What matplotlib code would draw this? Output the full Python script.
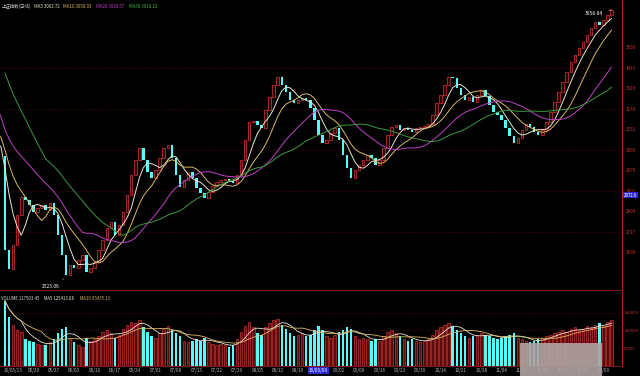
import numpy as np
import pandas as pd
import matplotlib
matplotlib.use('Agg')
import matplotlib.pyplot as plt
from matplotlib.patches import Rectangle

plt.rcParams['font.family'] = ['Noto Sans CJK SC', 'DejaVu Sans']

# closes before the visible window (only feed the moving averages)
pre_closes = [3950, 3940, 3920, 3900, 3890, 3880, 3860, 3840, 3810, 3770,
              3300, 3285, 3260, 3250, 3230, 3220, 3210, 3200, 3195, 3190,
              3170, 3160, 3150, 3120, 3110, 3100, 3080, 3060, 3040]

closes = [2640, 2560, 2661, 2788, 2865, 2852, 2831, 2801, 2818, 2831,
          2810, 2839, 2788, 2704, 2619, 2534, 2576, 2564, 2598, 2619,
          2547, 2564, 2589, 2640, 2682, 2733, 2759, 2704, 2746, 2801,
          2873, 2958, 3022, 3072, 3022, 2971, 2945, 2979, 3030, 3072,
          3085, 3030, 2958, 2907, 2937, 2971, 2945, 2903, 2882, 2860,
          2886, 2911, 2928, 2937, 2941, 2933, 2924, 2958, 3022, 3106,
          3183, 3187, 3170, 3157, 3234, 3289, 3340, 3374, 3340, 3310,
          3276, 3263, 3276, 3285, 3276, 3242, 3191, 3128, 3094, 3106,
          3136, 3157, 3106, 3043, 2988, 2945, 2979, 3000, 3022, 3043,
          3030, 3000, 3022, 3072, 3128, 3162, 3170, 3149, 3157, 3149,
          3140, 3157, 3162, 3166, 3174, 3212, 3263, 3297, 3340, 3374,
          3369, 3327, 3297, 3276, 3289, 3268, 3297, 3318, 3293, 3255,
          3225, 3212, 3191, 3157, 3123, 3094, 3115, 3149, 3174, 3162,
          3140, 3128, 3149, 3183, 3225, 3268, 3310, 3352, 3395, 3437,
          3467, 3496, 3522, 3552, 3581, 3607, 3594, 3615, 3636, 3658]

volumes = [220000, 165000, 140000, 120000, 115000, 90000, 85000, 80000, 75000, 70000,
           72000, 80000, 90000, 110000, 125000, 130000, 90000, 80000, 70000, 65000,
           95000, 85000, 90000, 100000, 115000, 120000, 110000, 95000, 105000, 125000,
           140000, 150000, 145000, 155000, 130000, 115000, 100000, 95000, 110000, 125000,
           135000, 120000, 110000, 100000, 85000, 80000, 85000, 90000, 85000, 95000,
           80000, 75000, 70000, 75000, 70000, 65000, 70000, 90000, 115000, 135000,
           150000, 130000, 110000, 105000, 130000, 145000, 155000, 160000, 140000, 125000,
           110000, 100000, 105000, 110000, 100000, 105000, 120000, 135000, 120000, 100000,
           95000, 105000, 115000, 120000, 130000, 125000, 100000, 90000, 95000, 90000,
           85000, 90000, 85000, 100000, 115000, 120000, 110000, 100000, 90000, 85000,
           90000, 85000, 80000, 85000, 90000, 105000, 120000, 130000, 140000, 145000,
           135000, 120000, 110000, 100000, 95000, 100000, 105000, 110000, 105000, 100000,
           95000, 90000, 95000, 100000, 105000, 110000, 95000, 90000, 85000, 80000,
           85000, 90000, 95000, 100000, 105000, 110000, 115000, 120000, 115000, 125000,
           130000, 120000, 125000, 135000, 130000, 140000, 145000, 135000, 150000, 155000]

date_labels = ['16/05/13', '05/20', '05/27', '06/03', '06/10', '06/17', '06/24', '07/01',
               '07/08', '07/15', '07/22', '07/29', '08/05', '08/12', '08/19', '16/09/09',
               '09/02', '09/09', '09/16', '09/23', '09/30', '10/14', '10/21', '10/28',
               '11/04', '11/11', '11/18', '11/25', '12/02', '12/09']
date_pos = list(range(2, 150, 5))
cursor_label = 15  # the date shown in the blue cursor box

price_ticks = [2630, 2717, 2804, 2891, 2978, 3065, 3152, 3239, 3326, 3413, 3500]
vol_ticks = [60000, 120000, 180000]

low_value = 2523.06
high_value = 3658.84
cursor_price = 2872.6

RED = '#e03838'
CYAN = '#54fcfc'
AXRED = '#b02020'

fig = plt.figure(figsize=(6.4, 3.76), dpi=100, facecolor='black')
ax = fig.add_axes([0, 0.2287, 0.972, 0.771], facecolor='black')
axv = fig.add_axes([0, 0.0266, 0.972, 0.197], facecolor='black')

x = np.arange(len(closes))
c = np.array(closes, dtype=float)
o = np.array([pre_closes[-1]] + closes[:-1], dtype=float)
up = c >= o
body_lo = np.minimum(o, c)
body_h = np.maximum(np.abs(c - o), 3)

ax.bar(x[up], body_h[up], bottom=body_lo[up], width=0.62,
       color='#2a0000', edgecolor=RED, linewidth=0.5, zorder=3)
ax.bar(x[~up], body_h[~up], bottom=body_lo[~up], width=0.62,
       color=CYAN, linewidth=0, zorder=3)

full = pd.Series(pre_closes + closes, dtype=float)
xfull = np.arange(-len(pre_closes), len(closes))
ma_styles = [(5, '#e8e4d0'), (10, '#d8b860'), (20, '#c040c8'), (30, '#3c9a3c')]
for n, col in ma_styles:
    ax.plot(xfull, full.rolling(n).mean(), color=col, lw=0.7, zorder=4)

for t in price_ticks[1::2]:
    ax.axhline(t, color='#5a1010', lw=0.6, ls=(0, (1, 2)), zorder=1)

ax.set_xlim(-1.23, 151.6)
ax.set_ylim(2470, 3700)
ax.set_xticks([])
ax.yaxis.tick_right()
ax.set_yticks(price_ticks)
ax.set_yticklabels([str(t) for t in price_ticks])
ax.tick_params(axis='y', colors='#c83232', labelsize=3.3, length=0, pad=2.5)
for s in ['top', 'left']:
    ax.spines[s].set_visible(False)
ax.spines['right'].set_color(AXRED)
ax.spines['right'].set_linewidth(0.8)
ax.spines['bottom'].set_color('#7a1818')
ax.spines['bottom'].set_linewidth(0.8)

low_i = int(np.argmin(c))
ax.annotate(f'{low_value:.2f}', xy=(low_i, low_value), xytext=(9, 2487),
            color='white', fontsize=3.6, va='center', ha='left',
            arrowprops=dict(arrowstyle='-', color='white', lw=0.4))
high_i = int(np.argmax(c))
ax.annotate(f'{high_value:.2f}', xy=(high_i, high_value), xytext=(147, 3645),
            color='white', fontsize=3.6, va='center', ha='right',
            arrowprops=dict(arrowstyle='-', color='white', lw=0.4))

# cursor price box
ax.text(1.003, cursor_price, f'{cursor_price:.1f}', transform=ax.get_yaxis_transform(),
        color='white', fontsize=3.2, va='center', ha='left', zorder=6,
        bbox=dict(boxstyle='square,pad=0.12', fc='#2a2ad0', ec='none'))

# volume panel
v = np.array(volumes, dtype=float)
axv.bar(x[up], v[up], width=0.62, color='#5a0c0c', edgecolor='#c83030', linewidth=0.5, zorder=3)
axv.bar(x[~up], v[~up], width=0.62, color=CYAN, linewidth=0, zorder=3)
vs = pd.Series(v)
axv.plot(x, vs.rolling(5, min_periods=1).mean(), color='#e8e4d0', lw=0.6, zorder=4)
axv.plot(x, vs.rolling(10, min_periods=1).mean(), color='#d8b860', lw=0.6, zorder=4)
for t in vol_ticks:
    axv.axhline(t, color='#5a1010', lw=0.6, ls=(0, (1, 2)), zorder=1)

axv.set_xlim(-1.23, 151.6)
axv.set_ylim(0, 250000)
axv.yaxis.tick_right()
axv.set_yticks(vol_ticks)
axv.set_yticklabels([str(t) for t in vol_ticks])
axv.tick_params(axis='y', colors='#c83232', labelsize=2.9, length=0, pad=1.5)
axv.set_xticks(date_pos)
axv.set_xticklabels(date_labels)
axv.tick_params(axis='x', colors='#b8b8b8', labelsize=3.3, length=0, pad=1.5)
lbl = axv.get_xticklabels()[cursor_label]
lbl.set_color('white')
lbl.set_bbox(dict(boxstyle='square,pad=0.15', fc='#2a2ad0', ec='none'))
for s in ['top', 'left']:
    axv.spines[s].set_visible(False)
axv.spines['right'].set_color(AXRED)
axv.spines['right'].set_linewidth(0.8)
axv.spines['bottom'].set_color('#7a1818')
axv.spines['bottom'].set_linewidth(0.8)

# headers
hy = 1 - 6 / 376
fig.text(2 / 640, hy, '上证指数(日线)', color='#d0d0d0', fontsize=3.2, va='center')
fig.text(34 / 640, hy, 'MA5 3062.72', color='#e8e4d0', fontsize=3.2, va='center')
fig.text(63 / 640, hy, 'MA10 3050.03', color='#d8b860', fontsize=3.2, va='center')
fig.text(96 / 640, hy, 'MA20 3030.57', color='#c040c8', fontsize=3.2, va='center')
fig.text(129 / 640, hy, 'MA30 3018.22', color='#3cba3c', fontsize=3.2, va='center')

vy = 1 - 299 / 376
fig.text(1 / 640, vy, 'VOLUME 117503.45', color='#d8d8d8', fontsize=3.1, va='center')
fig.text(44 / 640, vy, 'MA5 125413.88', color='#e8e4d0', fontsize=3.1, va='center')
fig.text(80 / 640, vy, 'MA10 95435.13', color='#d8b860', fontsize=3.1, va='center')

# watermark block in the lower right
fig.patches.append(Rectangle((520 / 640, 0), 82 / 640, 33 / 376, transform=fig.transFigure,
                             facecolor='#b0a4a4', edgecolor='none', alpha=0.9, zorder=10))

fig.savefig('out.png', dpi=100, facecolor='black')
